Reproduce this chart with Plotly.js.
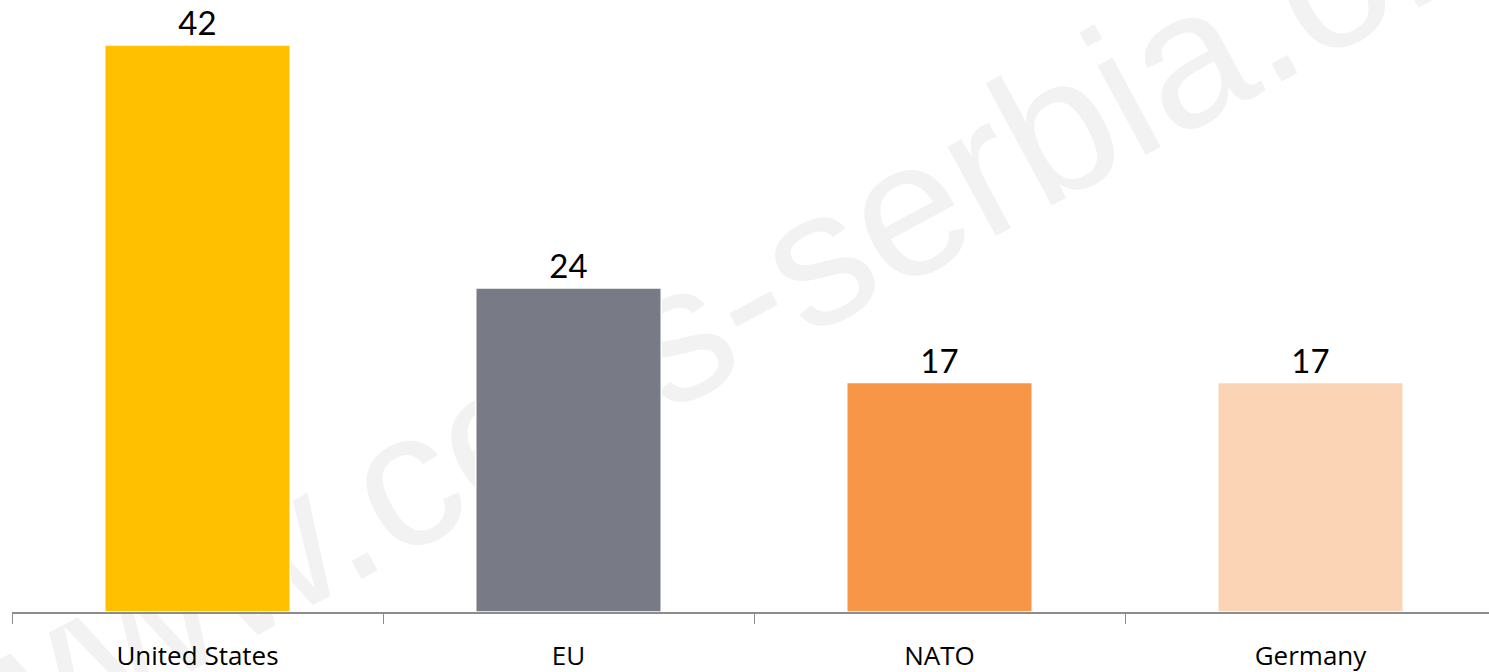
<!DOCTYPE html>
<html>
<head>
<meta charset="utf-8">
<script src="https://cdn.plot.ly/plotly-3.0.1.min.js"></script>
<style>
html,body{margin:0;padding:0;background:#fff;}
#chart{width:1489px;height:672px;}
</style>
</head>
<body>
<div id="chart"></div>
<script>
const categories = ["United States", "EU", "NATO", "Germany"];
const values = [42, 24, 17, 17];
const barColors = ["#FFC000", "#787B85", "#F79646", "#FAD4B4"];
const watermarkText = "www.cees-serbia.org";

const W = 1489, H = 672;
const ml = 12, mr = 0, mt = 0, mb = 60;
const plotW = W - ml - mr, plotH = H - mt - mb;
function px2paperX(px){ return (px - ml) / plotW; }
function px2paperY(py){ return (H - mb - py) / plotH; }

const wmX = 733, wmY = 282;

const trace = {
  type: "bar",
  x: categories,
  y: values,
  width: 0.5,
  marker: { color: barColors, line: { color: "#ffffff", width: 1.5 } },
  text: values.map(String),
  textposition: "outside",
  textfont: { family: "Lato, 'Open Sans', sans-serif", size: 33, color: "#000" },
  cliponaxis: false,
  hoverinfo: "skip"
};

const layout = {
  width: W, height: H,
  margin: { l: ml, r: mr, t: mt, b: mb, pad: 0 },
  paper_bgcolor: "#ffffff",
  plot_bgcolor: "rgba(0,0,0,0)",
  showlegend: false,
  bargap: 0.5,
  xaxis: {
    type: "category",
    range: [-0.5, -0.5 + plotW / 371],
    showline: true, linecolor: "#8c8c8c", linewidth: 1.5,
    ticks: "outside", tickson: "boundaries", ticklen: 10, tickcolor: "#8c8c8c", tickwidth: 1,
    ticklabelstandoff: 20,
    showgrid: false, zeroline: false,
    tickfont: { family: "'Open Sans', sans-serif", size: 26, color: "#000" }
  },
  yaxis: {
    range: [0, plotH / 13.5],
    visible: false, showgrid: false, zeroline: false
  },
  shapes: [{
    type: "rect", xref: "paper", yref: "paper", layer: "below",
    x0: px2paperX(wmX - 1), x1: px2paperX(wmX + 1),
    y0: px2paperY(wmY + 1), y1: px2paperY(wmY - 1),
    line: { width: 0 }, fillcolor: "rgba(0,0,0,0)",
    label: {
      text: watermarkText,
      textangle: -28.4,
      textposition: "middle center",
      font: { family: "'Liberation Sans', Arial, sans-serif", size: 192, color: "#f2f2f2" }
    }
  }]
};

Plotly.newPlot("chart", [trace], layout, { staticPlot: true, displayModeBar: false });
</script>
</body>
</html>
